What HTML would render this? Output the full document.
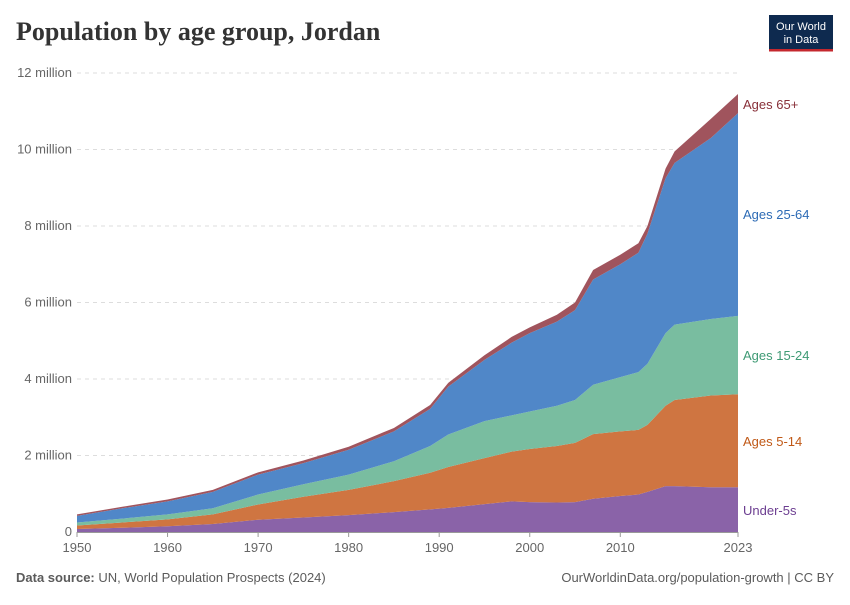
<!DOCTYPE html>
<html><head><meta charset="utf-8"><style>
body{margin:0;background:#fff;font-family:"Liberation Sans",sans-serif;}
svg text{font-family:"Liberation Sans",sans-serif;}
svg text.title{font-family:"Liberation Serif",serif;}
</style></head><body>
<svg width="850" height="600" viewBox="0 0 850 600" xmlns="http://www.w3.org/2000/svg">
<text class="title" x="16" y="40" font-size="26" font-weight="bold" fill="#333">Population by age group, Jordan</text>
<g>
<rect x="769" y="15" width="64" height="35" fill="#0e2a4f"/>
<rect x="769" y="49" width="64" height="2.5" fill="#c4282e"/>
<text x="801" y="30" font-size="11" fill="#fff" text-anchor="middle">Our World</text>
<text x="801" y="43" font-size="11" fill="#fff" text-anchor="middle">in Data</text>
</g>
<g id="grid"></g>
<g id="areas"></g>
<g id="xaxis"></g>
<g id="labels"></g>
<text x="16" y="582" font-size="13" fill="#5b5b5b"><tspan font-weight="bold">Data source:</tspan> UN, World Population Prospects (2024)</text>
<text x="834" y="582" font-size="13" fill="#5b5b5b" text-anchor="end">OurWorldinData.org/population-growth | CC BY</text>
</svg>
<script>
const years=[1950,1955,1960,1965,1970,1975,1980,1985,1989,1991,1995,1998,2000,2003,2005,2007,2010,2012,2013,2015,2016,2020,2023];
const under5=[0.08,0.11,0.15,0.21,0.32,0.38,0.44,0.52,0.59,0.63,0.73,0.8,0.78,0.77,0.78,0.87,0.94,0.98,1.05,1.2,1.2,1.17,1.17];
const ages5to14=[0.09,0.14,0.18,0.25,0.40,0.54,0.66,0.81,0.96,1.07,1.20,1.30,1.39,1.48,1.55,1.69,1.69,1.69,1.75,2.10,2.25,2.40,2.43];
const ages15to24=[0.08,0.10,0.13,0.16,0.26,0.33,0.40,0.52,0.70,0.85,0.97,0.95,0.98,1.05,1.12,1.29,1.42,1.51,1.60,1.90,1.97,2.00,2.05];
const ages25to64=[0.17,0.27,0.34,0.43,0.52,0.55,0.65,0.78,0.97,1.25,1.60,1.90,2.05,2.20,2.35,2.75,2.95,3.12,3.40,4.05,4.23,4.73,5.30];
const ages65plus=[0.04,0.04,0.05,0.05,0.06,0.07,0.08,0.09,0.10,0.10,0.12,0.15,0.15,0.18,0.20,0.25,0.25,0.25,0.20,0.25,0.30,0.50,0.50];
const yTicks=[0,2,4,6,8,10,12];
const yTickLabels=["0","2 million","4 million","6 million","8 million","10 million","12 million"];
const xTicks=[1950,1960,1970,1980,1990,2000,2010,2023];
const seriesNames=["Under-5s","Ages 5-14","Ages 15-24","Ages 25-64","Ages 65+"];
const NS="http://www.w3.org/2000/svg";
const X=y=>77+(y-1950)*(738-77)/73;
const Y=v=>532-v*(532-73)/12;
const series=[under5,ages5to14,ages15to24,ages25to64,ages65plus];
const fills=["#8a63a8","#cf7541","#79bda0","#5087c8","#a0545d"];
const txt=["#6c3e91","#c05917","#3e9a74","#2d6bb5","#883039"];
const keys=["under-5s","ages-5-14","ages-15-24","ages-25-64","ages-65-plus"];
function mk(t,a,p){const e=document.createElementNS(NS,t);for(const k in a)e.setAttribute(k,a[k]);p.appendChild(e);return e;}
const grid=document.getElementById('grid');
yTicks.forEach((v,i)=>{
 if(v>0){const l=mk('line',{x1:77,x2:738,y1:Y(v),y2:Y(v),stroke:'#ddd','stroke-dasharray':'4,4'},grid);
 
 }
 const t=mk('text',{x:72,y:Y(v)+4,'font-size':13,fill:'#666','text-anchor':'end'},grid);
 t.textContent=yTickLabels[i];
 
 
});
const areas=document.getElementById('areas');
let base=years.map(()=>0);
series.forEach((s,k)=>{
 const top=base.map((b,i)=>b+s[i]);
 let d='M'+years.map((y,i)=>X(y)+','+Y(top[i])).join(' L');
 for(let i=years.length-1;i>=0;i--)d+=' L'+X(years[i])+','+Y(base[i]);
 d+='Z';
 const p=mk('path',{d:d,fill:fills[k]},areas);
 
 
 base=top;
});
const xa=document.getElementById('xaxis');
mk('line',{x1:77,x2:738,y1:532.5,y2:532.5,stroke:'#999'},xa);
xTicks.forEach(y=>{
 mk('line',{x1:X(y),x2:X(y),y1:532,y2:537,stroke:'#999'},xa);
 const t=mk('text',{x:X(y),y:552,'font-size':13,fill:'#666','text-anchor':'middle'},xa);
 t.textContent=y;
 
 
});
const lab=document.getElementById('labels');
const labelY=[515,446,360,219,109];
seriesNames.forEach((n,k)=>{
 const t=mk('text',{x:743,y:labelY[k],'font-size':13,fill:txt[k]},lab);
 t.textContent=n;
 
 
});
</script>
</body></html>
